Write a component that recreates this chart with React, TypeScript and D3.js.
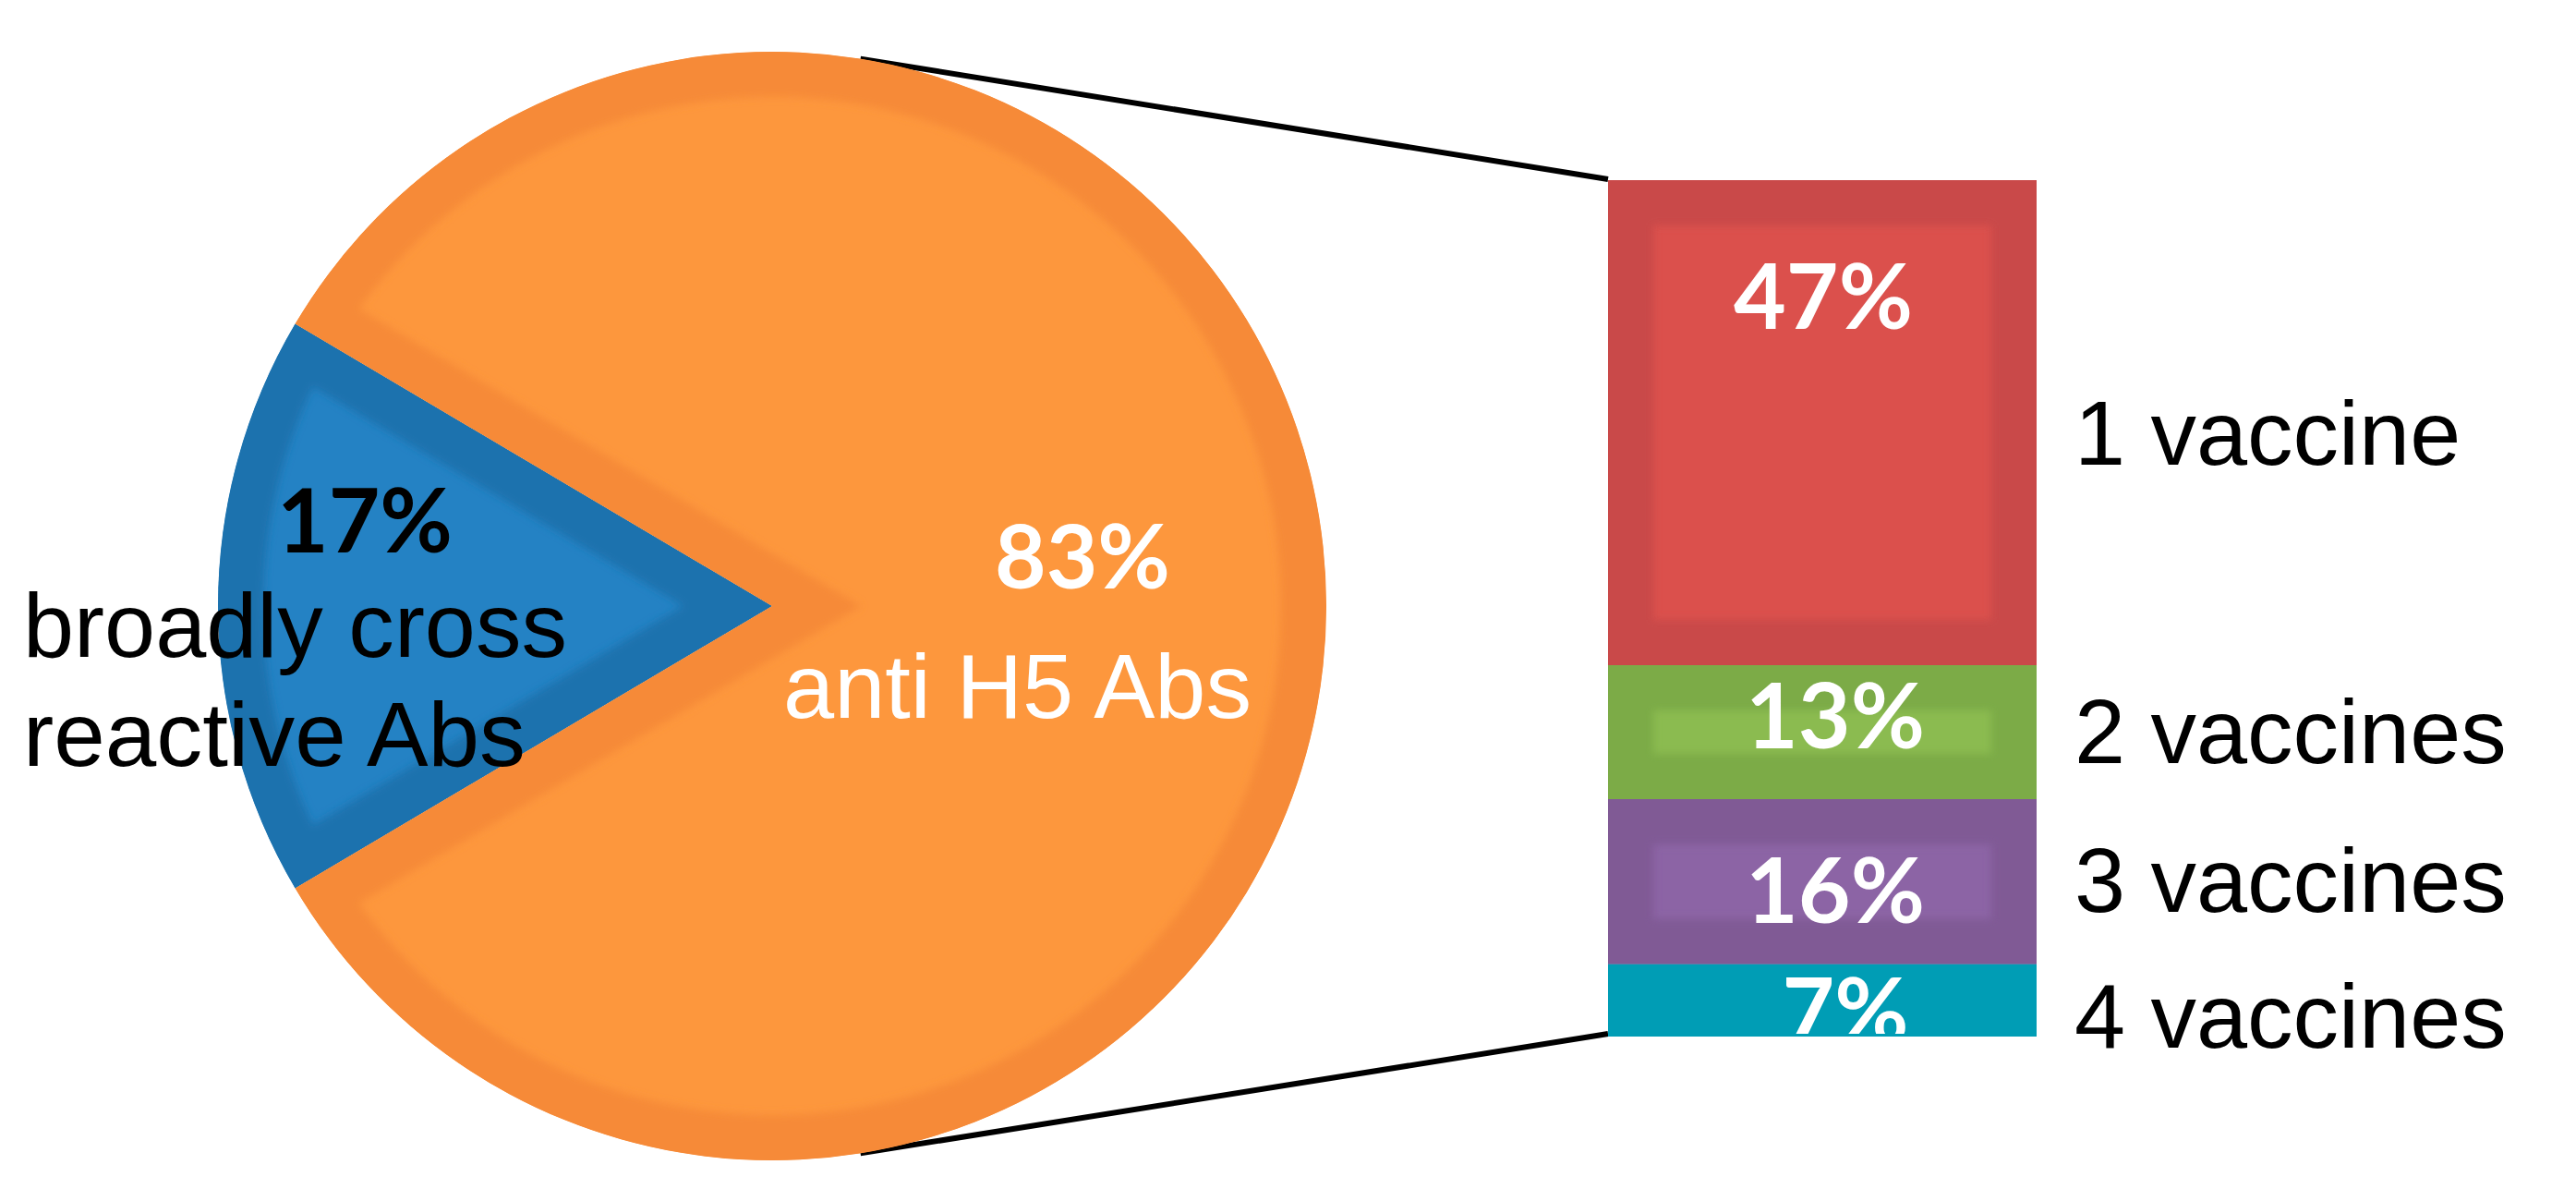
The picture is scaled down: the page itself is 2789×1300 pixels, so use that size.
import React from 'react';
import * as d3 from 'd3';

// ---------- data ----------
const pieCategories = ['broadly cross reactive Abs', 'anti H5 Abs'];
const pieValues = [17, 83];
const pieLabels = ['17%', '83%'];

const barCategories = ['1 vaccine', '2 vaccines', '3 vaccines', '4 vaccines'];
const barValues = [47, 13, 16, 7];
const barLabels = ['47%', '13%', '16%', '7%'];

// ---------- styles ----------
const pieDark = ['#1F72AE', '#F68A38'];
const pieLight = ['#2482C4', '#FD973D'];
const barDark = ['#C94849', '#7CAB46', '#805A95', '#009DB5'];
const barLight = ['#DB504C', '#8BBB50', '#8C64A5', '#009DB5'];

const W = 2789;
const H = 1300;
const border = 49;

const pieCx = 836;
const pieCy = 656;
const pieR = 600;

const barX0 = 1741;
const barX1 = 2205;
const barY0 = 195;
const barY1 = 1122;

const pctFont = 'Lato, "Open Sans", sans-serif';
const txtFont = '"Liberation Sans", Arial, sans-serif';

export default function App() {
  const blueFrac = pieValues[0] / d3.sum(pieValues);
  const start = 1.5 * Math.PI - blueFrac * Math.PI;
  const pie = d3
    .pie<number>()
    .sort(null)
    .startAngle(start)
    .endAngle(start + 2 * Math.PI);
  const arcs = pie(pieValues);
  const arc = d3.arc<d3.PieArcDatum<number>>().innerRadius(0).outerRadius(pieR);

  const total = d3.sum(barValues);
  const y = d3.scaleLinear().domain([0, total]).range([barY0, barY1]);
  const cum = barValues.reduce<number[]>((acc, v, i) => {
    acc.push((i === 0 ? 0 : acc[i - 1]) + v);
    return acc;
  }, []);
  const segs = barValues.map((v, i) => ({
    v,
    y0: y(cum[i] - v),
    y1: y(cum[i]),
  }));

  const connA = 0.16;
  const topPt = [pieCx + pieR * Math.sin(connA), pieCy - pieR * Math.cos(connA)];
  const botPt = [pieCx + pieR * Math.sin(connA), pieCy + pieR * Math.cos(connA)];

  const labelDy = [161, 90, 134, 85];
  const rightDy = [46, 33, 33, 51];
  const barMid = (barX0 + barX1) / 2;
  const labelDx = [1, 14, 14, 25];

  return (
    <svg
      width={W}
      height={H}
      style={{ position: 'absolute', left: 0, top: 0, background: '#fff' }}
    >
      <defs>
        {arcs.map((a, i) => (
          <clipPath id={`pclip${i}`} key={i}>
            <path d={arc(a) || ''} transform={`translate(${pieCx},${pieCy})`} />
          </clipPath>
        ))}
        {segs.map((s, i) => (
          <clipPath id={`bclip${i}`} key={i}>
            <rect x={barX0} y={s.y0} width={barX1 - barX0} height={s.y1 - s.y0} />
          </clipPath>
        ))}
        <clipPath id="barclip">
          <rect x={barX0} y={barY0} width={barX1 - barX0} height={barY1 - barY0 - 3} />
        </clipPath>
        <filter id="soft" x="-20%" y="-20%" width="140%" height="140%">
          <feGaussianBlur stdDeviation="4" />
        </filter>
      </defs>

      {/* connector lines */}
      <line x1={topPt[0]} y1={topPt[1]} x2={barX0} y2={barY0 - 1} stroke="#000" strokeWidth={6} />
      <line x1={botPt[0]} y1={botPt[1]} x2={barX0} y2={barY1 - 3} stroke="#000" strokeWidth={6} />

      {/* pie */}
      {arcs.map((a, i) => (
        <g key={i} clipPath={`url(#pclip${i})`}>
          <path d={arc(a) || ''} transform={`translate(${pieCx},${pieCy})`} fill={pieLight[i]} />
          <path
            d={arc(a) || ''}
            transform={`translate(${pieCx},${pieCy})`}
            fill="none"
            stroke={pieDark[i]}
            strokeWidth={border * 2}
            strokeLinejoin="miter"
            strokeMiterlimit={10}
            filter="url(#soft)"
          />
        </g>
      ))}

      {/* bar */}
      {segs.map((s, i) => (
        <g key={i} clipPath={`url(#bclip${i})`}>
          <rect
            x={barX0}
            y={s.y0}
            width={barX1 - barX0}
            height={s.y1 - s.y0}
            fill={barLight[i]}
          />
          <rect
            x={barX0}
            y={s.y0}
            width={barX1 - barX0}
            height={s.y1 - s.y0}
            fill="none"
            stroke={barDark[i]}
            strokeWidth={border * 2}
            filter="url(#soft)"
          />
        </g>
      ))}

      {/* bar labels */}
      <g clipPath="url(#barclip)">
        {segs.map((s, i) => (
          <text
            key={i}
            x={barMid + labelDx[i]}
            y={s.y0 + labelDy[i]}
            textAnchor="middle"
            fontFamily={pctFont}
            fontWeight={700}
            fontSize={98}
            fill="#fff"
          >
            {barLabels[i]}
          </text>
        ))}
      </g>
      {segs.map((s, i) => (
        <text
          key={i}
          x={2246}
          y={(s.y0 + s.y1) / 2 + rightDy[i]}
          fontFamily={txtFont}
          fontSize={99}
          fill="#000"
        >
          {barCategories[i]}
        </text>
      ))}

      {/* pie labels */}
      <text x={395} y={598} textAnchor="middle" fontFamily={pctFont} fontWeight={700} fontSize={96} fill="#000">
        {pieLabels[0]}
      </text>
      <text x={25} y={711} fontFamily={txtFont} fontSize={98} fill="#000" textLength={589} lengthAdjust="spacingAndGlyphs">
        broadly cross
      </text>
      <text x={25} y={829} fontFamily={txtFont} fontSize={98} fill="#000" textLength={544} lengthAdjust="spacingAndGlyphs">
        reactive Abs
      </text>
      <text x={1172} y={637} textAnchor="middle" fontFamily={pctFont} fontWeight={700} fontSize={96} fill="#fff">
        {pieLabels[1]}
      </text>
      <text x={848} y={777} fontFamily={txtFont} fontSize={98} fill="#fff" textLength={507} lengthAdjust="spacingAndGlyphs">
        {pieCategories[1]}
      </text>
    </svg>
  );
}
